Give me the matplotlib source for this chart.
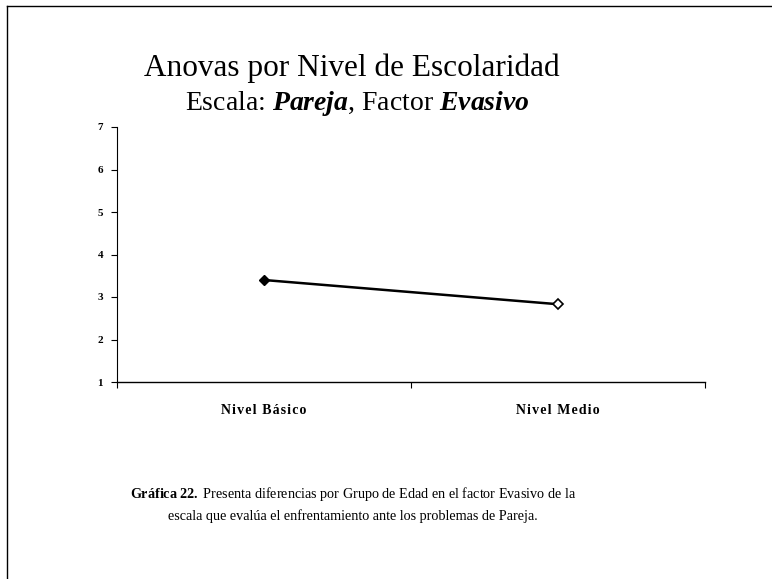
import matplotlib
matplotlib.use("Agg")
import matplotlib.pyplot as plt
from matplotlib.lines import Line2D

categories = ["Nivel Básico", "Nivel Medio"]
values = [3.4, 2.83]
yticks = [1, 2, 3, 4, 5, 6, 7]

plt.rcParams['font.family'] = ['Liberation Serif', 'DejaVu Serif']
plt.rcParams['mathtext.fontset'] = 'custom'
plt.rcParams['mathtext.rm'] = 'Liberation Serif'
plt.rcParams['mathtext.it'] = 'Liberation Serif:italic'
plt.rcParams['mathtext.bf'] = 'Liberation Serif:bold'
plt.rcParams['mathtext.bfit'] = 'Liberation Serif:bold:italic'

fig = plt.figure(figsize=(7.72, 5.79), dpi=100)
ax = fig.add_axes([117/772, 1 - 382/579, (705-117)/772, (382-127)/579])

x = [0.5, 1.5]
ax.plot(x, values, color='black', lw=1.8, zorder=3)
ax.plot(x[0], values[0], marker='D', ms=5.5, color='black', mfc='black', zorder=4, ls='none')
ax.plot(x[1], values[1], marker='D', ms=5.5, color='black', mfc='white', mew=1.2, zorder=4, ls='none')

ax.set_xlim(0, 2)
ax.set_ylim(1, 7)
ax.set_yticks(yticks)
ax.set_yticklabels([str(t) for t in yticks], fontsize=8, fontweight='bold')
ax.set_xticks([0, 1, 2])
ax.set_xticklabels([])
ax.set_xticks(x, minor=True)
ax.set_xticklabels(["\u200a".join(c) for c in categories], minor=True, fontsize=10, fontweight='bold')
ax.tick_params(axis='x', which='minor', length=0, pad=16)
ax.tick_params(axis='x', which='major', length=4, width=0.8, direction='out')
ax.tick_params(axis='y', length=4, width=0.8, direction='out', pad=6)
for s in ['top', 'right']:
    ax.spines[s].set_visible(False)
ax.spines['left'].set_linewidth(0.8)
ax.spines['bottom'].set_linewidth(1.0)

fig.text(352/772, 1 - 68/579, "Anovas por Nivel de Escolaridad", ha='center', va='center', fontsize=22.5)
fig.text(357/772, 1 - 104/579, r"Escala: $\mathbfit{Pareja}$, Factor $\mathbfit{Evasivo}$",
         ha='center', va='center', fontsize=20)

fig.text(353/772, 1 - 494/579, r"$\mathbf{Gráfica\ 22.}$ Presenta diferencias por Grupo de Edad en el factor Evasivo de la",
         ha='center', va='center', fontsize=10.2)
fig.text(353/772, 1 - 516/579, "escala que evalúa el enfrentamiento ante los problemas de Pareja.",
         ha='center', va='center', fontsize=10.2)

fig.add_artist(Line2D([7/772, 7/772], [0, 1 - 6/579], transform=fig.transFigure, color='black', lw=1))
fig.add_artist(Line2D([7/772, 1], [1 - 6/579, 1 - 6/579], transform=fig.transFigure, color='black', lw=1))

fig.savefig("out.png", dpi=100)
